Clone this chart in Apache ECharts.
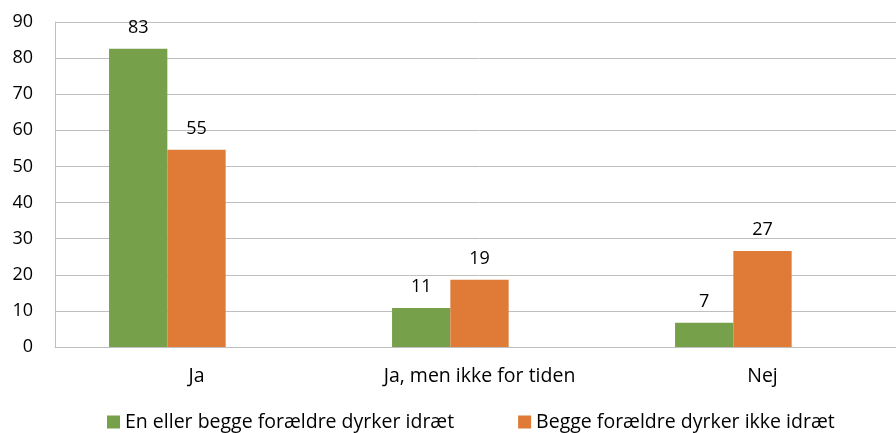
<!DOCTYPE html>
<html>
<head>
<meta charset="UTF-8">
<style>
  html, body { margin: 0; padding: 0; background: #fff; overflow: hidden; }
  /* the source chart is a little wider than the picture and is cut on the right */
  #chart { width: 905px; height: 433px; }
</style>
<script src="https://cdn.jsdelivr.net/npm/echarts@6/dist/echarts.min.js"></script>
</head>
<body>
<div id="chart"></div>
<script>
// data
const categories = ['Ja', 'Ja, men ikke for tiden', 'Nej']
const seriesNames = ['En eller begge forældre dyrker idræt', 'Begge forældre dyrker ikke idræt']
const valuesOne = [82.6, 10.8, 6.7]
const valuesBoth = [54.6, 18.6, 26.6]
// the original has an empty third slot in every group
const valuesEmpty = [null, null, null]

const font = '"Open Sans", sans-serif'

const chart = echarts.init(document.getElementById('chart'))

function barSeries(name, data, color) {
	return {
		name: name,
		type: 'bar',
		data: data,
		barWidth: 58.3,
		barGap: '0%',
		itemStyle: { color: color },
		label: {
			show: true,
			position: 'top',
			distance: 12,
			color: '#000',
			fontFamily: font,
			fontSize: 18,
			formatter: p => Math.round(p.value)
		}
	}
}

chart.setOption({
	animation: false,
	grid: { left: 55, right: 1, top: 22, bottom: 86 },
	legend: {
		top: 407,
		left: 102,
		itemWidth: 13,
		itemHeight: 13,
		itemGap: 64,
		icon: 'rect',
		textStyle: { fontFamily: font, fontSize: 19.5, color: '#000' },
		data: seriesNames
	},
	xAxis: {
		type: 'category',
		data: categories,
		axisTick: { show: false },
		axisLine: { lineStyle: { color: '#bfbfbf' } },
		axisLabel: { color: '#000', fontFamily: font, fontSize: 19.5, margin: 19 }
	},
	yAxis: {
		type: 'value',
		min: 0,
		max: 90,
		interval: 10,
		axisLine: { show: true, lineStyle: { color: '#bfbfbf' } },
		splitLine: { lineStyle: { color: '#bfbfbf' } },
		axisLabel: { color: '#000', fontFamily: font, fontSize: 18, margin: 22 }
	},
	series: [
		barSeries(seriesNames[0], valuesOne, '#77a04a'),
		barSeries(seriesNames[1], valuesBoth, '#df7b36'),
		barSeries('tom', valuesEmpty, '#a5a5a5')
	]
})
</script>
</body>
</html>
